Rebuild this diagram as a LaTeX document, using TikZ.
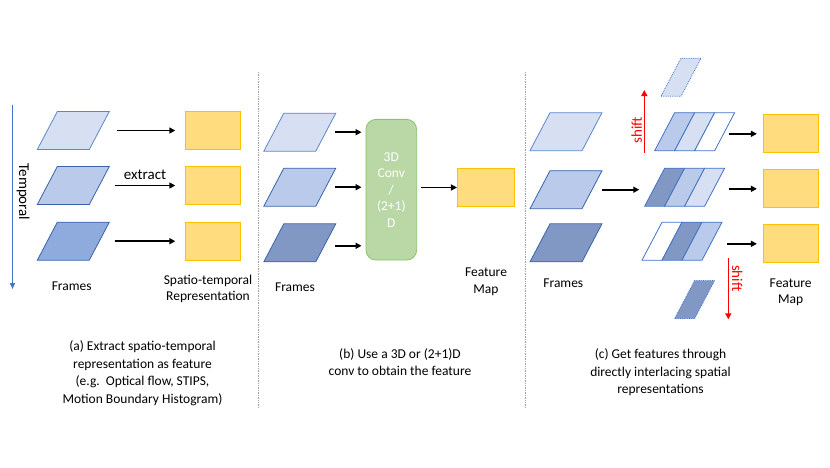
\documentclass[tikz,border=0pt]{standalone}
\usepackage{fontspec}
\setmainfont{Carlito}
\usepackage{tikz}
\usetikzlibrary{arrows.meta}
\definecolor{frameLight}{HTML}{D6E0F2}
\definecolor{frameMid}{HTML}{B9CAEA}
\definecolor{frameDark}{HTML}{8FAADC}
\definecolor{frameGrey}{HTML}{8198C4}
\definecolor{edgeLight}{HTML}{5B87D1}
\definecolor{edgeDark}{HTML}{3A62AB}
\definecolor{featFill}{HTML}{FFDD7E}
\definecolor{featEdge}{HTML}{FFC000}
\definecolor{convFill}{HTML}{BAD7A6}
\definecolor{convEdge}{HTML}{8EC270}
\definecolor{shiftRed}{HTML}{FF0000}
\definecolor{timeBlue}{HTML}{4472C4}
\definecolor{sepGrey}{HTML}{A0A0A0}

\begin{document}
\begin{tikzpicture}[
  x=1pt, y=-1pt,
  frm/.style={draw, line width=0.8pt, minimum width=52pt, minimum height=38pt, inner sep=0pt, xslant=0.526, transform shape},
  strip/.style={draw=timeBlue, line width=0.8pt, minimum width=20pt, minimum height=38pt, inner sep=0pt, xslant=0.526, transform shape},
  feat/.style={draw=featEdge, fill=featFill, line width=0.8pt, minimum width=55pt, minimum height=38pt, inner sep=0pt},
  arr/.style={-{Triangle[length=6pt,width=6pt]}, line width=1.6pt},
  sarr/.style={-{Triangle[length=6pt,width=6pt]}, line width=1.4pt, shiftRed},
  lbl/.style={font=\fontsize{13.5}{16.5}\selectfont, align=center},
  captxt/.style={font=\fontsize{13.5}{17.5}\selectfont, align=center},
  sep/.style={sepGrey, densely dotted, line width=0.7pt}
]
\useasboundingbox (0,0) rectangle (830,467);

% Temporal axis
\coordinate (t0) at (12.5,105);
\coordinate (t1) at (12.5,289);
\draw[-{Triangle[length=6pt,width=5pt]}, line width=1.4pt, timeBlue] (t0) -- (t1);
\node[font=\fontsize{15}{18}\selectfont, rotate=-90] (tlab) at (23,192) {Temporal};

% (a) frames
\node[frm, draw=edgeLight, fill=frameLight] (a1) at (73.3,130.5) {};
\node[frm, draw=edgeDark, fill=frameMid] (a2) at (73.3,185.5) {};
\node[frm, draw=edgeDark, fill=frameDark] (a3) at (73.3,241.2) {};
\node[feat] (ra1) at (213.2,130.5) {};
\node[feat] (ra2) at (213.2,185.5) {};
\node[feat] (ra3) at (213.2,241.2) {};
\draw[arr, shorten <=17pt, shorten >=10pt] (a1.east) -- (ra1.west);
\draw[arr, shorten <=15pt, shorten >=10pt] (a2.east) -- (ra2.west);
\draw[arr, shorten <=15pt, shorten >=10pt] (a3.east) -- (ra3.west);
\node[font=\fontsize{15}{18}\selectfont] (ext) at (145,175) {extract};
\node[lbl] (fa) at (71.7,286.7) {Frames};
\node[lbl] (sa) at (208,289) {Spatio-temporal\\Representation};

% separators
\coordinate (s1a) at (258.7,72);
\coordinate (s1b) at (258.7,408);
\coordinate (s2a) at (525,72);
\coordinate (s2b) at (525,408);
\draw[sep] (s1a) -- (s1b);
\draw[sep] (s2a) -- (s2b);

% (b) 3D conv
\node[frm, draw=edgeLight, fill=frameLight] (b1) at (299.8,132.2) {};
\node[frm, draw=edgeDark, fill=frameMid] (b2) at (299.8,187.2) {};
\node[frm, draw=edgeDark, fill=frameGrey] (b3) at (299.8,242.8) {};
\node[draw=convEdge, fill=convFill, line width=0.8pt, rounded corners=10pt, minimum width=50.7pt, minimum height=140.7pt, inner sep=0pt, text=white, lbl] (conv) at (391.3,189.7) {3D\\Conv\\/\\(2+1)\\D};
\node[feat, minimum width=56.7pt] (rb) at (485.7,187.5) {};
\draw[arr, shorten <=9pt, shorten >=4pt] (b1.east) -- (b1.east -| conv.west);
\draw[arr, shorten <=9pt, shorten >=4pt] (b2.east) -- (b2.east -| conv.west);
\draw[arr, shorten <=9pt, shorten >=4pt] ([yshift=-3pt]b3.east) -- ([yshift=-3pt]b3.east -| conv.west);
\draw[arr, shorten <=4pt] (rb.west -| conv.east) -- (rb.west);
\node[lbl] (fb) at (295,287.3) {Frames};
\node[lbl] (mb) at (486,281.7) {Feature\\Map};

% (c) interlacing
\node[frm, draw=edgeLight, fill=frameLight] (c1) at (566,131.7) {};
\node[frm, draw=edgeDark, fill=frameMid] (c2) at (566,189.7) {};
\node[frm, draw=edgeDark, fill=frameGrey] (c3) at (566,242.8) {};

\node[strip, fill=frameMid] (m1a) at (674.65,131.7) {};
\node[strip, fill=frameLight] (m1b) at (694.65,131.7) {};
\node[strip, fill=white] (m1c) at (714.65,131.7) {};

\node[strip, fill=frameGrey] (m2a) at (664.65,187.2) {};
\node[strip, fill=frameMid] (m2b) at (684.65,187.2) {};
\node[strip, fill=frameLight] (m2c) at (704.65,187.2) {};

\node[strip, fill=white] (m3a) at (662,241.2) {};
\node[strip, fill=frameGrey] (m3b) at (682,241.2) {};
\node[strip, fill=frameMid] (m3c) at (702,241.2) {};

\node[strip, densely dotted, fill=frameLight] (gup) at (681,77.2) {};
\node[strip, densely dotted, fill=frameGrey] (gdn) at (694.65,299.5) {};

\node[feat] (rc1) at (790.8,133.8) {};
\node[feat] (rc2) at (790.8,188.8) {};
\node[feat] (rc3) at (790.8,243.8) {};

\draw[arr, shorten <=10pt, shorten >=15pt] (c2.east) -- (c2.east -| m2a.west);
\draw[arr, shorten <=4pt, shorten >=6pt] (rc1.west -| m1c.east) -- (rc1.west);
\draw[arr, shorten <=14pt, shorten >=6pt] (rc2.west -| m2c.east) -- (rc2.west);
\draw[arr, shorten <=15pt, shorten >=6pt] (rc3.west -| m3c.east) -- (rc3.west);

% shifts
\coordinate (up0) at (644.3,152.7);
\coordinate (up1) at (644.3,90);
\coordinate (dn0) at (728.3,258.3);
\coordinate (dn1) at (728.3,319.3);
\draw[sarr] (up0) -- (up1);
\draw[sarr] (dn0) -- (dn1);
\node[font=\fontsize{15}{18}\selectfont, text=shiftRed, rotate=90] (su) at (636.7,130) {shift};
\node[font=\fontsize{15}{18}\selectfont, text=shiftRed, rotate=-90] (sd) at (737.3,278.3) {shift};

\node[lbl] (fc) at (563.3,283.3) {Frames};
\node[lbl] (mc) at (790.7,292.2) {Feature\\Map};

% captions
\node[captxt] (capa) at (142.5,373.3) {(a) Extract spatio-temporal\\representation as feature\\(e.g.\ \ Optical flow, STIPS,\\Motion Boundary Histogram)};
\node[captxt] (capb) at (400,362.3) {(b) Use a 3D or (2+1)D\\conv to obtain the feature};
\node[captxt] (capc) at (660.5,372.5) {(c) Get features through\\directly interlacing spatial\\representations};
\end{tikzpicture}
\end{document}
